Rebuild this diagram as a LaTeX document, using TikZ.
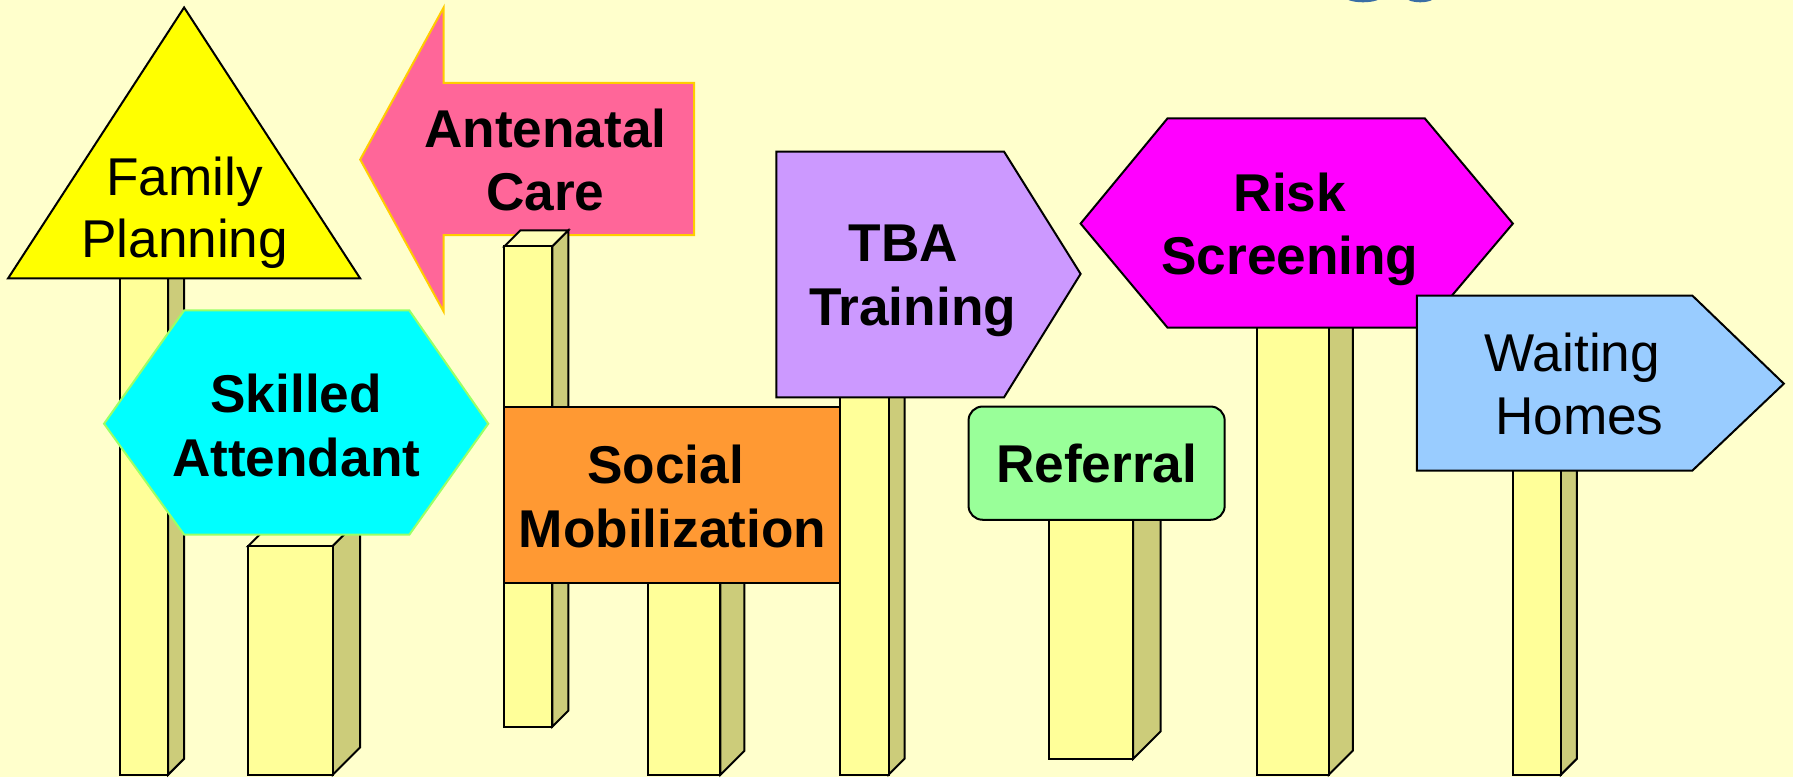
\documentclass[tikz,border=0pt]{standalone}
\usepackage{fontspec}
\setmainfont{Liberation Sans}
\definecolor{bgc}{RGB}{255,255,204}
\definecolor{front}{RGB}{255,255,153}
\definecolor{side}{RGB}{204,204,122}
\definecolor{topc}{RGB}{255,255,184}
\definecolor{cyellow}{RGB}{255,255,0}
\definecolor{ccyan}{RGB}{0,255,255}
\definecolor{cmag}{RGB}{255,0,255}
\definecolor{cpink}{RGB}{255,102,153}
\definecolor{cedge}{RGB}{255,204,0}
\definecolor{cgreenedge}{RGB}{153,255,102}
\definecolor{corange}{RGB}{255,153,51}
\definecolor{cpurple}{RGB}{204,153,255}
\definecolor{cgreen}{RGB}{153,255,153}
\definecolor{csky}{RGB}{153,204,255}
\definecolor{cblue}{RGB}{58,110,165}
\tikzset{
  x=0.57175pt,y=-0.57175pt,
  sign/.style={line width=1pt,line join=miter},
  pil/.style={draw=black,line width=1pt,line join=miter},
  reg/.style={font=\fontsize{26.6}{31.4}\selectfont,align=center,text=black},
  bld/.style={font=\fontsize{26.6}{31.8}\selectfont\bfseries,align=center,text=black}
}
\newcommand{\pillar}[6]{% x0 x1 xr top bottom dy
  \filldraw[pil,fill=topc] (#1,#4) -- (#1+#6,#4-#6) -- (#3,#4-#6) -- (#2,#4) -- cycle;
  \filldraw[pil,fill=side] (#2,#4) -- (#3,#4-#6) -- (#3,#5-#6) -- (#2,#5) -- cycle;
  \filldraw[pil,fill=front] (#1,#4) rectangle (#2,#5);
}
\begin{document}
\begin{tikzpicture}
\useasboundingbox (0,0) rectangle (1568,679.5);
\fill[bgc] (0,0) rectangle (1568,679.5);
\begin{scope}
\clip (0,0) rectangle (1568,679.5);
\fill[cblue] (1192,-3) ellipse[x radius=16,y radius=5];
\fill[cblue] (1242,-3) ellipse[x radius=13,y radius=5];
\end{scope}
\begin{scope}[yshift=-0.3pt]
% pillars
\pillar{105}{147}{161}{235}{677}{14}
\pillar{217}{291}{315}{477}{677}{24}
% antenatal arrow
\draw[sign,draw=cedge,fill=cpink]
 (315,139) -- (388,6) -- (388,72) -- (607,72) -- (607,205) -- (388,205) -- (388,272) -- cycle;
\pillar{441}{483}{497}{215}{635}{14}
\pillar{567}{630}{651}{480}{677}{21}
\pillar{735}{777}{791}{330}{677}{14}
\pillar{917}{991}{1015}{430}{663}{24}
\pillar{1099}{1162}{1183}{270}{677}{21}
\pillar{1323}{1365}{1379}{400}{677}{14}
% signs
\draw[sign,fill=cyellow] (161,6) -- (7,243) -- (315,243) -- cycle;
\draw[sign,draw=cgreenedge,fill=ccyan] (91,370) -- (161,271) -- (358,271) -- (427,370) -- (358,467) -- (161,467) -- cycle;
\draw[sign,fill=corange] (441,355) rectangle (735,509);
\draw[sign,fill=cpurple] (679,132) -- (878,132) -- (945,239) -- (878,347) -- (679,347) -- cycle;
\draw[sign,fill=cmag] (945,195) -- (1021,103) -- (1246,103) -- (1323,195) -- (1246,286) -- (1021,286) -- cycle;
\draw[sign,rounded corners=7pt,fill=cgreen] (847,355) rectangle (1071,454);
\draw[sign,fill=csky] (1239,258) -- (1480,258) -- (1560,335) -- (1480,411) -- (1239,411) -- cycle;
\end{scope}
% labels
\node[reg] (fp) at (161.5,186) {Family\\Planning};
\node[bld] (ac) at (477,140) {Antenatal\\Care};
\node[bld] (sa) at (259,372) {Skilled\\Attendant};
\node[bld] (sm) at (588,434) {Social\hspace*{6.8pt}\\Mobilization};
\node[bld] (tt) at (798,245.5) {TBA\hspace*{9pt}\\Training};
\node[bld] (rs) at (1128,200.5) {Risk\\Screening};
\node[bld] (rf) at (959,405) {Referral};
\node[reg] (wh) at (1375,336) {Waiting\\\hspace*{7pt}Homes};
\end{tikzpicture}
\end{document}
